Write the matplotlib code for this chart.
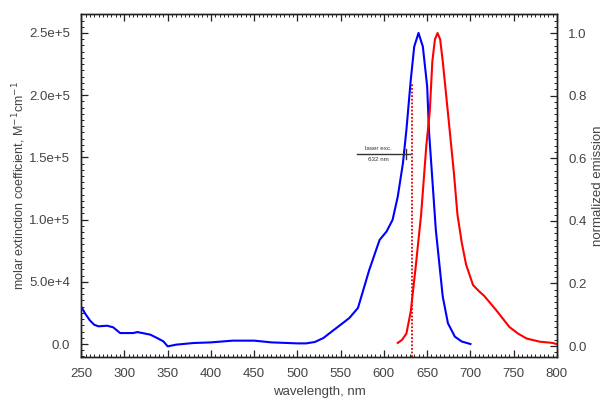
import matplotlib
matplotlib.use("Agg")
import matplotlib.pyplot as plt
from matplotlib.ticker import MultipleLocator, FuncFormatter

plt.rcParams['font.family'] = ['Liberation Sans', 'DejaVu Sans']

# Absorption (molar extinction coefficient)
abs_wl = [250, 255, 260, 265, 270, 280, 287, 295, 310, 315, 330, 340, 345, 350,
          360, 380, 400, 425, 450, 470, 500, 510, 520, 530, 540, 550, 560, 570,
          583, 595, 603, 610, 616, 622, 626, 631, 635, 640, 645, 650, 652, 660,
          668, 674, 682, 690, 700]
abs_eps = [30000, 24000, 19000, 15500, 14200, 14700, 13400, 8800, 8800, 9600, 7500,
           4000, 2100, -1900, -500, 800, 1300, 2700, 2700, 1300, 500, 500, 1600,
           4800, 10200, 15500, 20900, 29000, 59500, 83700, 90400, 99800, 118500,
           145400, 172200, 212000, 239000, 250000, 239000, 207000, 172200, 91700,
           38100, 16700, 5900, 2000, 0]

# Normalized emission
em_wl = [616, 621, 626, 631, 637, 643, 649, 653, 656, 659, 662, 665, 668, 672, 676,
         681, 685, 690, 695, 703, 710, 716, 730, 745, 755, 765, 780, 795, 800]
em_val = [0.01, 0.02, 0.04, 0.11, 0.26, 0.42, 0.64, 0.75, 0.91, 0.98, 1.0, 0.98,
          0.91, 0.80, 0.69, 0.55, 0.42, 0.33, 0.26, 0.195, 0.175, 0.16, 0.114, 0.061,
          0.04, 0.024, 0.014, 0.01, 0.006]

laser_wl = 632
laser_label = ["laser exc.", "632 nm"]

fig = plt.figure(figsize=(6.06, 3.98), dpi=100)
ax = fig.add_axes([0.134, 0.103, 0.785, 0.862])
ax2 = ax.twinx()

ax.plot(abs_wl, abs_eps, color='#0000ff', lw=1.5)
ax2.plot(em_wl, em_val, color='#ff0000', lw=1.5)

ax.set_xlim(250, 800)
ax.set_ylim(-10450, 265300)
ax2.set_ylim(-0.035, 1.061)

ax.vlines(laser_wl, -10450, 210000, colors='#dd0000', linestyles=(0, (1, 1)), lw=1.3)
ax.plot([569, 630], [152700, 152700], color='#333333', lw=1.0)
ax.plot([625, 625], [149000, 156500], color='#333333', lw=1.0)
ax.text(594, 155000, laser_label[0], fontsize=4.5, ha='center', va='bottom', color='#333333')
ax.text(594, 150000, laser_label[1], fontsize=4.5, ha='center', va='top', color='#333333')

ax.xaxis.set_major_locator(MultipleLocator(50))
ax.xaxis.set_minor_locator(MultipleLocator(5))
ax.yaxis.set_major_locator(MultipleLocator(50000))
ax.yaxis.set_minor_locator(MultipleLocator(5000))
ax2.yaxis.set_major_locator(MultipleLocator(0.2))
ax2.yaxis.set_minor_locator(MultipleLocator(0.02))

def sci(v, pos):
    if abs(v) < 1e-9:
        return "0.0"
    e = 0
    m = v
    while abs(m) >= 10:
        m /= 10
        e += 1
    return f"{m:.1f}e+{e}"

ax.yaxis.set_major_formatter(FuncFormatter(sci))
ax2.yaxis.set_major_formatter(FuncFormatter(lambda v, p: f"{v:.1f}"))

ax.tick_params(axis='both', which='both', direction='in', top=True, right=False,
               labelsize=9.5, colors='#222222', labelcolor='#444444')
ax.tick_params(which='major', length=5, width=0.9)
ax.tick_params(which='minor', length=2.5, width=0.7)
ax.tick_params(axis='x', pad=8)
ax.tick_params(axis='y', pad=8)
ax2.tick_params(axis='y', which='both', direction='in', labelsize=9.5,
                colors='#222222', labelcolor='#444444', pad=8)
ax2.tick_params(which='major', length=5, width=0.9)
ax2.tick_params(which='minor', length=2.5, width=0.7)

for a in (ax, ax2):
    for s in a.spines.values():
        s.set_linewidth(1.0)
        s.set_color('#222222')

ax.set_xlabel("wavelength, nm", fontsize=9.5, color='#444444', labelpad=4)
ax.set_ylabel("molar extinction coefficient, M$^{-1}$cm$^{-1}$", fontsize=9,
              color='#444444', labelpad=1)
ax2.set_ylabel("normalized emission", fontsize=9.5, color='#444444', labelpad=4)

fig.savefig("out.png", dpi=100)
